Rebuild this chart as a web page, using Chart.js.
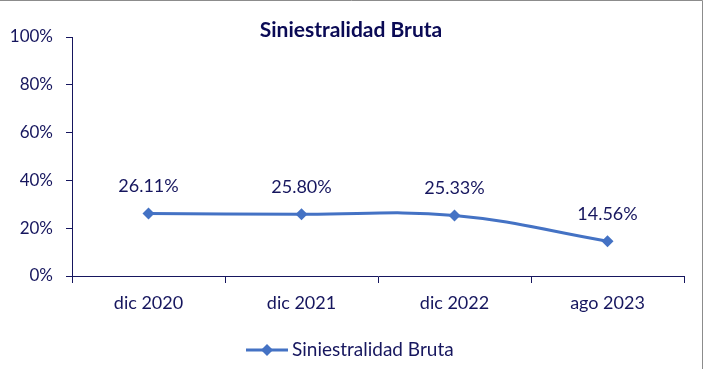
<!DOCTYPE html>
<html>
<head>
<meta charset="utf-8">
<script src="https://cdn.jsdelivr.net/npm/chart.js@4.4.0/dist/chart.umd.min.js"></script>
<style>
  html, body { margin: 0; padding: 0; background: #fff; }
  #wrap { width: 705px; height: 369px; position: relative; }
</style>
</head>
<body>
<div id="wrap"><canvas id="chart"></canvas></div>
<script>
const categories = ["dic 2020", "dic 2021", "dic 2022", "ago 2023"];
const siniestralidad = [26.11, 25.80, 25.33, 14.56];
const yTicks = [0, 20, 40, 60, 80, 100];
const seriesName = "Siniestralidad Bruta";
const chartTitle = "Siniestralidad Bruta";

const navy = "#16165e";
const lineBlue = "#4472C4";
const fontFamily = "Lato, 'Open Sans', sans-serif";

// title, data labels, legend and the outer border
const extras = {
  id: "extras",
  afterDatasetsDraw(chart) {
    const ctx = chart.ctx;
    const meta = chart.getDatasetMeta(0);
    ctx.save();
    ctx.fillStyle = navy;
    ctx.font = "18px " + fontFamily;
    ctx.textAlign = "center";
    ctx.textBaseline = "middle";
    meta.data.forEach((pt, i) => {
      ctx.fillText(siniestralidad[i].toFixed(2) + "%", pt.x, pt.y - 27);
    });

    // title
    ctx.font = "bold 21px " + fontFamily;
    ctx.fillStyle = "#0a0a55";
    ctx.fillText(chartTitle, 351, 30);

    // legend
    const ly = 350;
    ctx.strokeStyle = lineBlue;
    ctx.lineWidth = 3;
    ctx.beginPath();
    ctx.moveTo(246, ly);
    ctx.lineTo(288, ly);
    ctx.stroke();
    ctx.fillStyle = lineBlue;
    ctx.beginPath();
    ctx.moveTo(267, ly - 6);
    ctx.lineTo(273, ly);
    ctx.lineTo(267, ly + 6);
    ctx.lineTo(261, ly);
    ctx.closePath();
    ctx.fill();
    ctx.fillStyle = navy;
    ctx.font = "19px " + fontFamily;
    ctx.textAlign = "left";
    ctx.fillText(seriesName, 292, ly);

    // border (top and right only)
    ctx.strokeStyle = "#8c8c8c";
    ctx.lineWidth = 1;
    ctx.beginPath();
    ctx.moveTo(0, 0.5);
    ctx.lineTo(702.5, 0.5);
    ctx.lineTo(702.5, 369);
    ctx.stroke();
    ctx.restore();
  }
};

new Chart(document.getElementById("chart"), {
  type: "line",
  data: {
    labels: categories,
    datasets: [{
      label: seriesName,
      data: siniestralidad,
      borderColor: lineBlue,
      backgroundColor: lineBlue,
      borderWidth: 3,
      tension: 0.4,
      pointStyle: "rectRot",
      pointRadius: 6,
      pointHoverRadius: 6,
      pointBorderWidth: 0
    }]
  },
  options: {
    responsive: true,
    maintainAspectRatio: false,
    animation: false,
    events: [],
    layout: { padding: { left: 0, right: 21, top: 37, bottom: 0 } },
    plugins: {
      legend: { display: false },
      title: { display: false },
      tooltip: { enabled: false }
    },
    scales: {
      x: {
        offset: true,
        grid: {
          offset: true,
          drawOnChartArea: false,
          drawTicks: true,
          tickLength: 7,
          color: navy
        },
        border: { color: navy, width: 1 },
        ticks: {
          color: navy,
          font: { family: fontFamily, size: 18 },
          padding: 9,
          maxRotation: 0
        },
        afterFit(scale) { scale.height = 93; }
      },
      y: {
        min: 0,
        max: 100,
        afterBuildTicks(scale) {
          scale.ticks = yTicks.map(v => ({ value: v }));
        },
        grid: {
          drawOnChartArea: false,
          drawTicks: true,
          tickLength: 6,
          color: navy
        },
        border: { color: navy, width: 1 },
        ticks: {
          color: navy,
          font: { family: fontFamily, size: 17 },
          padding: 13,
          callback: v => v + "%"
        },
        afterFit(scale) { scale.width = 72; }
      }
    }
  },
  plugins: [extras]
});
</script>
</body>
</html>
